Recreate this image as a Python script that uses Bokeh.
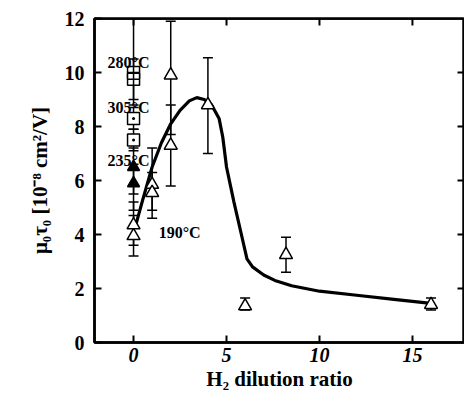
from bokeh.plotting import figure
from bokeh.models import ColumnDataSource, Whisker, TeeHead, FixedTicker, Range1d, Span
from bokeh.core.properties import value
from bokeh.embed import file_html
from bokeh.resources import INLINE

# H2 dilution ratio vs mu0*tau0 [1e-8 cm^2/V]
# substrate temperature series at ratio 0
sq280_x = [0, 0]
sq280_y = [10.0, 9.75]
sq280_lo = [8.8, 9.0]
sq280_hi = [12.0, 10.5]

sq305_x = [0, 0]
sq305_y = [8.3, 7.5]
sq305_lo = [7.9, 7.1]
sq305_hi = [8.7, 7.9]

tri235_x = [0, 0]
tri235_y = [6.5, 5.9]
tri235_lo = [5.5, 4.9]
tri235_hi = [7.2, 6.6]

# 190 C series over dilution ratio
tri190_x = [0, 0, 1, 1, 2, 2, 4, 6, 8.2, 16]
tri190_y = [4.35, 3.95, 5.85, 5.55, 9.9, 7.3, 8.8, 1.35, 3.25, 1.4]
tri190_lo = [3.6, 3.2, 4.6, 4.9, 7.7, 5.8, 7.0, 1.2, 2.6, 1.2]
tri190_hi = [5.2, 4.7, 7.2, 6.3, 11.9, 8.8, 10.55, 1.65, 3.9, 1.65]

# guide-to-the-eye curve
curve_x = [0.1, 0.5, 1.0, 1.5, 2.0, 2.5, 3.0, 3.4, 3.8, 4.2, 4.6, 4.8, 5.0,
           5.4, 5.8, 6.1, 6.4, 7.0, 7.6, 8.5, 10.0, 12.0, 14.0, 16.0]
curve_y = [4.3, 5.3, 6.5, 7.4, 8.1, 8.6, 8.95, 9.07, 9.0, 8.8, 8.3, 7.6, 6.5,
           5.2, 4.0, 3.1, 2.8, 2.5, 2.3, 2.1, 1.9, 1.75, 1.6, 1.45]

labels = ["280°C", "305°C", "235°C", "190°C"]
label_x = [-1.4, -1.4, -1.4, 1.35]
label_y = [10.37, 8.7, 6.75, 4.07]

x_ticks = [0, 5, 10, 15]
y_ticks = [0, 2, 4, 6, 8, 10, 12]

SERIF = "Liberation Serif"
X0, X1 = -2.1, 17.8
Y0, Y1 = 0, 12

p = figure(width=464, height=400, output_backend="svg", toolbar_location=None,
           x_range=Range1d(X0, X1), y_range=Range1d(Y0, Y1),
           min_border_left=94, min_border_top=18, min_border_right=0,
           min_border_bottom=58)
p.outline_line_color = "black"
p.outline_line_width = 2.5
p.grid.visible = False
p.background_fill_color = "white"
p.border_fill_color = "white"

for ax, ticks in ((p.xaxis[0], x_ticks), (p.yaxis[0], y_ticks)):
    ax.ticker = FixedTicker(ticks=ticks)
    ax.major_tick_in = 7
    ax.major_tick_out = 0
    ax.minor_tick_line_color = None
    ax.major_tick_line_width = 2
    ax.major_tick_line_color = "black"
    ax.axis_line_width = 2.5
    ax.axis_line_color = "black"
    ax.major_label_text_font = SERIF
    ax.major_label_text_font_style = "bold"
    ax.major_label_text_color = "black"
    ax.major_label_text_font_size = "20px"
    ax.axis_label_text_font = SERIF
    ax.axis_label_text_font_style = "bold"
    ax.axis_label_text_font_size = "21px"
    ax.axis_label_text_color = "black"

p.xaxis[0].major_label_text_font_style = "bold italic"
p.xaxis[0].major_label_standoff = 5
p.yaxis[0].major_label_standoff = 10
p.xaxis[0].axis_label = "H₂ dilution ratio"
p.yaxis[0].axis_label = "μ₀τ₀ [10⁻⁸ cm²/V]"
p.xaxis[0].axis_label_standoff = 2
p.yaxis[0].axis_label_standoff = 10

# heavy top edge of the frame
p.add_layout(Span(location=Y1, dimension="width", line_color="black", line_width=2.5))

# inward ticks on the top and right edges of the frame
tick_dy = 7 * (Y1 - Y0) / 324
tick_dx = 7 * (X1 - X0) / 370
p.segment(x0=x_ticks, y0=[Y1] * len(x_ticks), x1=x_ticks,
          y1=[Y1 - tick_dy] * len(x_ticks), line_color="black", line_width=2)
inner_y = y_ticks[1:-1]
p.segment(x0=[X1] * len(inner_y), y0=inner_y, x1=[X1 - tick_dx] * len(inner_y),
          y1=inner_y, line_color="black", line_width=2)


def errorbars(xs, lo, hi):
    src = ColumnDataSource(dict(x=xs, lower=lo, upper=hi))
    w = Whisker(source=src, base="x", lower="lower", upper="upper",
                dimension="height", line_color="black", line_width=1.5,
                upper_head=TeeHead(size=10, line_color="black", line_width=1.5),
                lower_head=TeeHead(size=10, line_color="black", line_width=1.5))
    p.add_layout(w)


errorbars(sq280_x, sq280_lo, sq280_hi)
errorbars(sq305_x, sq305_lo, sq305_hi)
errorbars(tri235_x, tri235_lo, tri235_hi)
errorbars(tri190_x, tri190_lo, tri190_hi)

p.line(curve_x, curve_y, line_color="black", line_width=3.2)

p.scatter(sq280_x, sq280_y, marker="square_cross", size=12,
          fill_color="white", line_color="black", line_width=1.5)
p.scatter(sq305_x, sq305_y, marker="square_dot", size=12,
          fill_color="white", line_color="black", line_width=1.5)
p.scatter(tri235_x, tri235_y, marker="triangle", size=12,
          fill_color="black", line_color="black", line_width=1.5)
p.scatter(tri190_x, tri190_y, marker="triangle", size=13,
          fill_color="white", line_color="black", line_width=1.5)

p.text(label_x, label_y, text=labels, text_font=value(SERIF),
       text_font_style="bold", text_font_size="16px", text_color="black",
       text_baseline="middle", text_align="left")

open("out.html", "w").write(file_html(p, INLINE))
